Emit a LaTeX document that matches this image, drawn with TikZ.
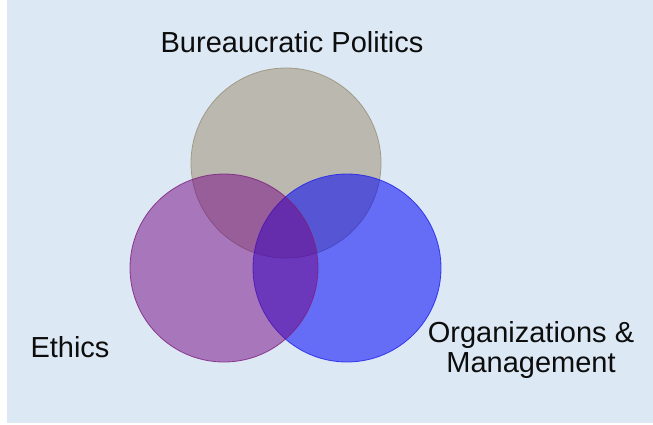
\documentclass[tikz,border=0pt]{standalone}
\usepackage{fontspec}
\setmainfont{Liberation Sans}
\usepackage{tikz}
\definecolor{paleblue}{RGB}{220,233,245}
\definecolor{politicsgray}{RGB}{187,184,176}
\definecolor{politicsedge}{RGB}{160,154,132}
\definecolor{ethicspurple}{RGB}{116,5,131}
\definecolor{ethicsedge}{RGB}{125,30,125}
\definecolor{managementblue}{RGB}{4,6,245}
\definecolor{managementedge}{RGB}{30,30,235}
\def\politicscircle{(286,163) circle(95pt)}
\def\ethicscircle{(224,268) circle(94pt)}
\def\managementcircle{(347,268) circle(94pt)}

\begin{document}
\begin{tikzpicture}[x=1pt,y=-1pt,
		label/.style={inner sep=0pt,text=black!95,font=\fontsize{29}{30}\selectfont}]
					\useasboundingbox (0,0) rectangle (653,424);
					\fill [white] (0,0) rectangle (653,424);
					\fill [paleblue] (7,0) rectangle (653,423);
					
					%the three circles, drawn back to front
					\filldraw [fill=politicsgray,draw=politicsedge,line width=0.8pt] \politicscircle;
					\filldraw [fill=managementblue,fill opacity=0.55,draw=managementedge,draw opacity=0.8,line width=0.8pt] \managementcircle;
					\filldraw [fill=ethicspurple,fill opacity=0.5,draw=ethicsedge,draw opacity=0.8,line width=0.8pt] \ethicscircle;
					
					%labels
					\node [label,anchor=base] (politics) at (292,52) {Bureaucratic Politics};
					\node [label,anchor=base] (ethics) at (70,357) {Ethics};
					\node [label,anchor=north,align=center] (management) at (531,321) {Organizations \&\\Management};
				\end{tikzpicture}
\end{document}
